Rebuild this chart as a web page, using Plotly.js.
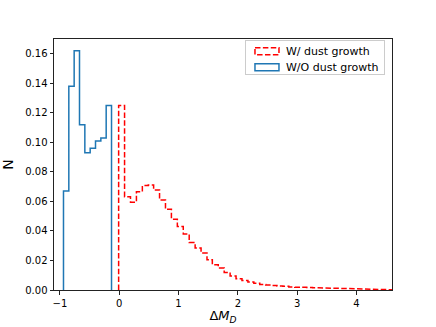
<!DOCTYPE html>
<html>
<head>
<meta charset="utf-8">
<script src="https://cdn.plot.ly/plotly-3.0.1.min.js"></script>
<style>
  html, body { margin: 0; padding: 0; background: #fff; }
  #chart { width: 436px; height: 327px; }
</style>
</head>
<body>
<div id="chart"></div>
<script>
// histogram bin edges and fractions
const withGrowthEdges = [-0.01, 0.09, 0.19, 0.29, 0.39, 0.49, 0.58, 0.68, 0.78, 0.88,
  0.98, 1.08, 1.18, 1.28, 1.38, 1.48, 1.57, 1.67, 1.77, 1.87,
  1.97, 2.07, 2.17, 2.27, 2.37, 2.47, 2.56, 2.66, 2.76, 2.86,
  2.96, 3.06, 3.16, 3.26, 3.36, 3.46, 3.55, 3.65, 3.75, 3.85,
  3.95, 4.05, 4.15, 4.25, 4.35, 4.45, 4.54, 4.64, 4.74];
const withGrowthN = [0.125, 0.0632, 0.0594, 0.0666, 0.0707, 0.0711, 0.0678, 0.061, 0.0547, 0.048,
  0.043, 0.038, 0.0322, 0.0284, 0.025, 0.0205, 0.0171, 0.0149, 0.0119, 0.0094,
  0.0076, 0.0065, 0.0054, 0.0045, 0.0038, 0.0034, 0.0031, 0.0027, 0.0025, 0.0021,
  0.0019, 0.0018, 0.0017, 0.0015, 0.0014, 0.0012, 0.0011, 0.001, 0.0009, 0.0008,
  0.0007, 0.0006, 0.0005, 0.0005, 0.0004, 0.0003, 0.0003, 0.0002];

const noGrowthEdges = [-0.94, -0.85, -0.76, -0.67, -0.58, -0.49, -0.40, -0.31, -0.22, -0.13];
const noGrowthN = [0.067, 0.138, 0.162, 0.112, 0.093, 0.096, 0.101, 0.103, 0.125];

const seriesNames = ['W/ dust growth', 'W/O dust growth'];

// outline of a step histogram, like histtype='step'
function stepOutline(edges, counts) {
  const x = [edges[0]];
  const y = [0];
  counts.forEach((c, i) => {
    x.push(edges[i], edges[i + 1]);
    y.push(c, c);
  });
  x.push(edges[edges.length - 1]);
  y.push(0);
  return { x, y };
}

const red = stepOutline(withGrowthEdges, withGrowthN);
const blue = stepOutline(noGrowthEdges, noGrowthN);

const data = [
  {
    x: red.x, y: red.y, type: 'scatter', mode: 'lines',
    name: seriesNames[0],
    line: { color: 'red', width: 1.5, dash: '5.5px,2.4px' }
  },
  {
    x: blue.x, y: blue.y, type: 'scatter', mode: 'lines',
    name: seriesNames[1],
    line: { color: '#1f77b4', width: 1.5 }
  }
];

const axisCommon = {
  showgrid: false,
  zeroline: false,
  showline: true,
  linecolor: '#222',
  linewidth: 1,
  mirror: true,
  ticks: 'outside',
  ticklen: 3.5,
  tickcolor: '#222',
  tickfont: { family: 'DejaVu Sans', size: 10, color: '#000' }
};

const layout = {
  width: 436,
  height: 327,
  paper_bgcolor: '#fff',
  plot_bgcolor: '#fff',
  font: { family: 'DejaVu Sans', color: '#000' },
  margin: { l: 54, r: 44, t: 39, b: 37 },
  showlegend: true,
  xaxis: Object.assign({}, axisCommon, {
    range: [-1.1, 4.6],
    tickvals: [-1, 0, 1, 2, 3, 4],
    title: { text: 'Δ<i>M</i><sub><i>D</i></sub>', font: { family: 'DejaVu Sans', size: 13 }, standoff: 3 }
  }),
  yaxis: Object.assign({}, axisCommon, {
    range: [0, 0.17],
    tickvals: [0, 0.02, 0.04, 0.06, 0.08, 0.1, 0.12, 0.14, 0.16],
    tickformat: '.2f',
    title: { text: 'N', font: { family: 'DejaVu Sans', size: 14 }, standoff: 8 }
  }),
  legend: {
    x: 0.565, y: 0.995, xanchor: 'left', yanchor: 'top',
    bgcolor: '#fff',
    bordercolor: '#ccc',
    borderwidth: 1,
    font: { family: 'DejaVu Sans', size: 11 },
    traceorder: 'normal',
    tracegroupgap: 0
  }
};

Plotly.newPlot('chart', data, layout, { displayModeBar: false, staticPlot: true }).then(gd => {
  // matplotlib step histograms show a hollow patch in the legend
  gd.querySelectorAll('.legend .traces .js-line').forEach(p => {
    p.setAttribute('d', 'M9,-3h24v7h-24z');
    p.style.fill = 'none';
  });
  // tighter legend rows, as in the original
  const rows = gd.querySelectorAll('.legend .traces');
  let y0 = null;
  rows.forEach((g, i) => {
    const m = /translate\(([-\d.]+),\s*([-\d.]+)\)/.exec(g.getAttribute('transform') || '');
    if (!m) return;
    if (y0 === null) y0 = parseFloat(m[2]);
    g.setAttribute('transform', `translate(${m[1]},${y0 - 5 + i * 16})`);
  });
  const bg = gd.querySelector('.legend .bg');
  if (bg) bg.setAttribute('height', parseFloat(bg.getAttribute('height')) - 15);
});
</script>
</body>
</html>
